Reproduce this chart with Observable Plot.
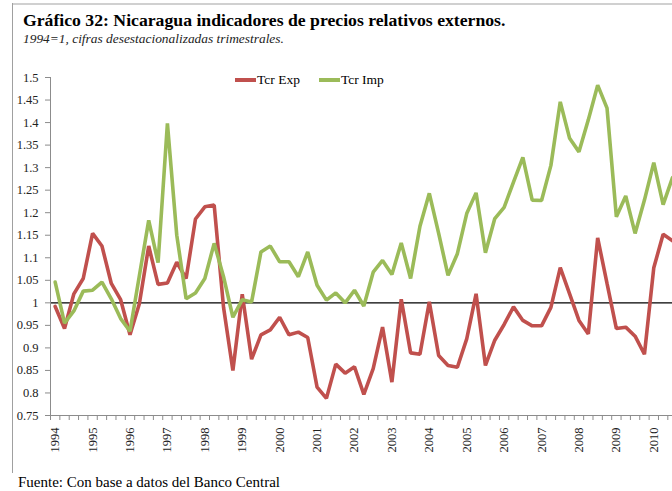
<!DOCTYPE html>
<html>
<head>
<meta charset="utf-8">
<script src="https://cdn.jsdelivr.net/npm/d3@7"></script>
<script src="https://cdn.jsdelivr.net/npm/@observablehq/plot@0.6"></script>
<style>
  html, body { margin: 0; padding: 0; background: #fff; }
  #wrap { position: relative; width: 672px; height: 491px; overflow: hidden; font-family: "Liberation Serif", serif; color: #000; }
  #frameTop { position: absolute; left: 12px; top: 3px; width: 660px; height: 2px; background: #d0d0d0; }
  #frameLeft { position: absolute; left: 12px; top: 3px; width: 1px; height: 470px; background: #a0a0a0; }
  #title { position: absolute; left: 23px; top: 10px; font-size: 17.7px; font-weight: bold; white-space: nowrap; }
  #subtitle { position: absolute; left: 23px; top: 31px; font-size: 13.4px; font-style: italic; white-space: nowrap; color: #222; }
  #chart { position: absolute; left: 0; top: 0; }
  #legend { position: absolute; left: 235px; top: 72px; font-size: 13.5px; display: flex; align-items: center; white-space: nowrap; }
  .sw { display: inline-block; width: 21px; height: 3.5px; margin-right: 1px; }
  .item { display: flex; align-items: center; margin-right: 19px; }
  #footer { position: absolute; left: 18px; top: 474px; font-size: 15px; white-space: nowrap; }
</style>
</head>
<body>
<div id="wrap">
  <div id="frameTop"></div>
  <div id="frameLeft"></div>
  <div id="chart"></div>
  <div id="title">Gráfico 32: Nicaragua indicadores de precios relativos externos.</div>
  <div id="subtitle">1994=1, cifras desestacionalizadas trimestrales.</div>
  <div id="legend"></div>
  <div id="footer">Fuente: Con base a datos del Banco Central</div>
</div>
<script>
// Quarterly index: 0 = 1994 T1 ... 66 = 2010 T3
const yearLabels = ["1994","1995","1996","1997","1998","1999","2000","2001","2002","2003","2004","2005","2006","2007","2008","2009","2010"];
const yTicks = [0.75,0.8,0.85,0.9,0.95,1,1.05,1.1,1.15,1.2,1.25,1.3,1.35,1.4,1.45,1.5];
const seriesNames = ["Tcr Exp", "Tcr Imp"];
const seriesColors = ["#C0504D", "#9BBB59"];

const tcrExp = [
  0.992,0.943,1.020,1.054, 1.154,1.126,1.043,1.007, 0.929,0.998,1.126,1.041,
  1.044,1.090,1.054,1.186, 1.213,1.217,0.990,0.850, 1.019,0.875,0.929,0.940,
  0.968,0.929,0.935,0.923, 0.813,0.788,0.864,0.844, 0.858,0.797,0.854,0.946,
  0.824,1.008,0.889,0.886, 1.002,0.883,0.861,0.857, 0.920,1.020,0.861,0.917,
  0.952,0.991,0.961,0.949, 0.949,0.990,1.078,1.020, 0.961,0.931,1.144,1.043,
  0.943,0.946,0.926,0.886, 1.078,1.152,1.138
];
const tcrImp = [
  1.046,0.955,0.982,1.026, 1.028,1.046,1.009,0.965, 0.937,1.060,1.183,1.089,
  1.398,1.150,1.009,1.022, 1.054,1.132,1.058,0.968, 1.007,1.002,1.113,1.126,
  1.091,1.091,1.058,1.113, 1.039,1.006,1.022,1.000, 1.028,0.993,1.068,1.094,
  1.063,1.133,1.054,1.170, 1.243,1.154,1.061,1.109, 1.198,1.244,1.111,1.187,
  1.212,1.268,1.323,1.228, 1.227,1.305,1.446,1.365, 1.335,1.406,1.483,1.432,
  1.191,1.237,1.154,1.228, 1.311,1.218,1.278
];

const rows = [];
tcrExp.forEach((v, i) => rows.push({q: i, v, s: seriesNames[0]}));
tcrImp.forEach((v, i) => rows.push({q: i, v, s: seriesNames[1]}));
const nQ = tcrExp.length;
const boundaries = d3.range(-0.5, nQ + 0.5, 1);
const yearTicks = yearLabels.map((y, k) => k * 4);
const fmt = d => String(+d.toFixed(2));

const chart = Plot.plot({
  width: 672,
  height: 462,
  marginTop: 77,
  marginBottom: 47,
  marginLeft: 50,
  marginRight: 0,
  style: {fontFamily: "Liberation Serif, serif", fontSize: "12.5px", color: "#222", background: "transparent"},
  x: {type: "linear", domain: [-0.5, nQ - 1]},
  y: {type: "linear", domain: [0.75, 1.5]},
  color: {domain: seriesNames, range: seriesColors},
  marks: [
    Plot.ruleY([1], {stroke: "#000", strokeWidth: 1.3}),
    Plot.lineY(rows, {x: "q", y: "v", stroke: "s", strokeWidth: 3.6, strokeLinejoin: "miter", clip: true}),
    Plot.ruleX([-0.5], {stroke: "#8c8c8c", strokeWidth: 1}),
    Plot.ruleY([0.75], {stroke: "#8c8c8c", strokeWidth: 1}),
    Plot.axisY({ticks: yTicks, tickFormat: fmt, tickSize: 5, tickPadding: 7, stroke: "#8c8c8c", fill: "#222", label: null}),
    Plot.axisX({ticks: boundaries, tickFormat: () => "", tickSize: 5, stroke: "#8c8c8c", label: null}),
    Plot.axisX({ticks: yearTicks, tickFormat: i => yearLabels[i / 4], tickSize: 0, tickPadding: 12, tickRotate: -90, fill: "#222", label: null})
  ]
});
document.getElementById("chart").appendChild(chart);

const legend = document.getElementById("legend");
seriesNames.forEach((n, k) => {
  const it = document.createElement("span");
  it.className = "item";
  it.innerHTML = `<span class="sw" style="background:${seriesColors[k]}"></span><span>${n}</span>`;
  legend.appendChild(it);
});
</script>
</body>
</html>
